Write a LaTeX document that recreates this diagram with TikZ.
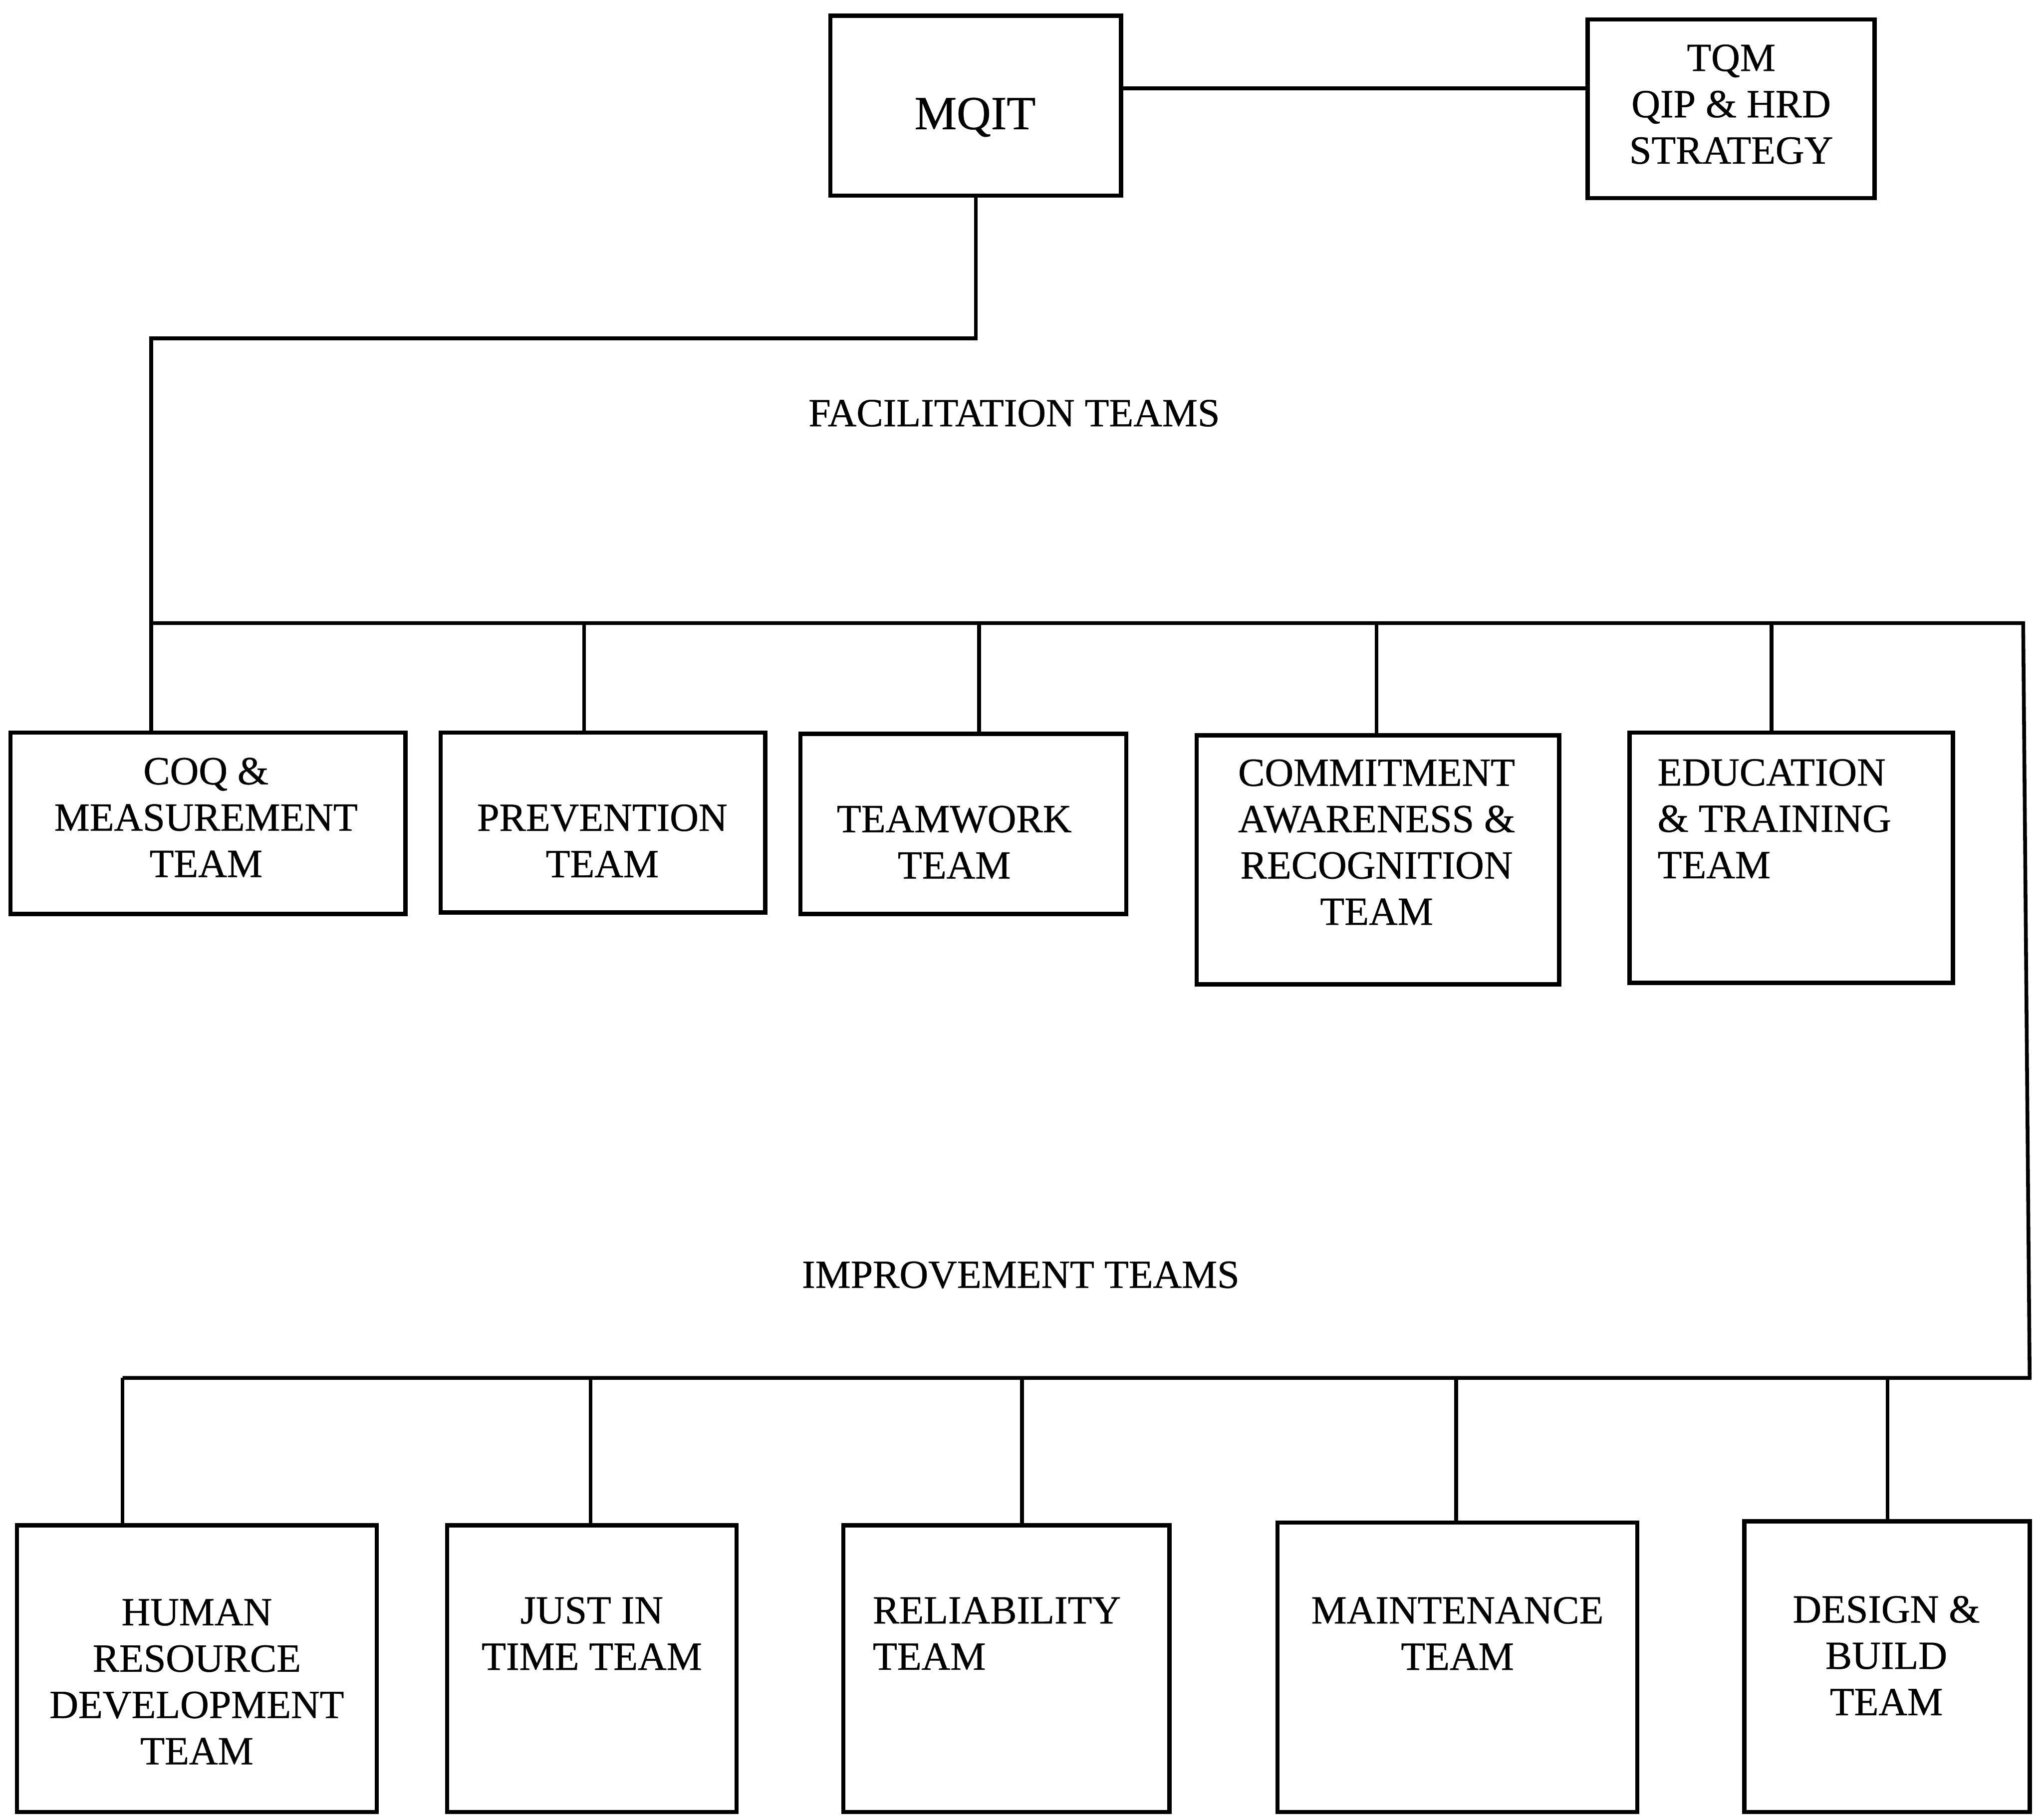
\documentclass[tikz,border=0pt]{standalone}
\usepackage{fontspec}
\setmainfont{Liberation Serif}
\newfontfamily\scanserif{Liberation Serif}[FakeBold=0.6]
\usetikzlibrary{fit,calc}
\begin{document}
\begin{tikzpicture}[x=0.012755cm,y=-0.012755cm,
  teambox/.style={draw,line width=1.2pt,inner sep=0pt,rectangle},
  link/.style={line width=1.05pt},
  caption/.style={font=\scanserif\fontsize{11.1}{12.9}\selectfont,inner sep=0pt,align=center},
  ]
\useasboundingbox (0,0) rectangle (1568,1392);

% ---- top level ----
\node[teambox,fit={(637,12)(860,150)}] (mqit) {};
\node[teambox,fit={(1218,15)(1438,152)}] (tqm) {};
\node[caption,font=\scanserif\fontsize{13.2}{15}\selectfont] (mqitT) at (748,90) {MQIT};
\node[caption] (tqmT) at (1328,80) {TQM\\QIP \& HRD\\STRATEGY};

% ---- facilitation teams ----
\node[teambox,fit={(8,562)(311,701)}] (coq) {};
\node[teambox,fit={(338,562)(587,700)}] (prev) {};
\node[teambox,fit={(614,563)(864,701)}] (twork) {};
\node[teambox,fit={(918,564)(1196,755)}] (commit) {};
\node[teambox,fit={(1250,562)(1498,754)}] (edu) {};

\node[caption] (coqT) at (158,627) {COQ \&\\MEASUREMENT\\TEAM};
\node[caption] (prevT) at (462,645) {PREVENTION\\TEAM};
\node[caption] (tworkT) at (732,646) {TEAMWORK\\TEAM};
\node[caption] (commitT) at (1056,646) {COMMITMENT\\AWARENESS \&\\RECOGNITION\\TEAM};
\node[caption,align=left,anchor=west] (eduT) at (1271,628) {EDUCATION\\\& TRAINING\\TEAM};

\node[caption] (facT) at (778,317) {FACILITATION TEAMS};

% ---- improvement teams ----
\node[teambox,fit={(13,1170)(289,1390)}] (hrd) {};
\node[teambox,fit={(343,1170)(565,1390)}] (jit) {};
\node[teambox,fit={(647,1170)(897,1390)}] (rel) {};
\node[teambox,fit={(980,1168)(1256,1390)}] (maint) {};
\node[teambox,fit={(1338,1167)(1557,1390)}] (design) {};

\node[caption] (hrdT) at (151,1290) {HUMAN\\RESOURCE\\DEVELOPMENT\\TEAM};
\node[caption] (jitT) at (454,1253) {JUST IN\\TIME TEAM};
\node[caption,align=left,anchor=west] (relT) at (669,1253) {RELIABILITY\\TEAM};
\node[caption] (maintT) at (1118,1253) {MAINTENANCE\\TEAM};
\node[caption] (designT) at (1447,1270) {DESIGN \&\\BUILD\\TEAM};

\node[caption] (impT) at (783,978) {IMPROVEMENT TEAMS};

% ---- connectors ----
\draw[link] ($(mqit.north east)!0.406!(mqit.south east)$) coordinate (mq) -- (mq -| tqm.west);

\coordinate (f1) at (116,478);
\coordinate (f2) at (448,478);
\coordinate (f3) at (751,478);
\coordinate (f4) at (1056,478);
\coordinate (f5) at (1359,478);
\coordinate (fR) at (1552,478);
\coordinate (iR) at (1557,1057);
\coordinate (i1) at (94,1057);
\coordinate (i2) at (453,1057);
\coordinate (i3) at (784,1057);
\coordinate (i4) at (1117,1057);
\coordinate (i5) at (1448,1057);

\draw[link] (mqit.south) -- ++(0,108) -| (f1);
\draw[link] (f1) -- (fR) -- (iR) -- (i1);

\draw[link] (f1) -- (f1 |- coq.north);
\draw[link] (f2) -- (f2 |- prev.north);
\draw[link] (f3) -- (f3 |- twork.north);
\draw[link] (f4) -- (f4 |- commit.north);
\draw[link] (f5) -- (f5 |- edu.north);

\draw[link] (i1) -- (i1 |- hrd.north);
\draw[link] (i2) -- (i2 |- jit.north);
\draw[link] (i3) -- (i3 |- rel.north);
\draw[link] (i4) -- (i4 |- maint.north);
\draw[link] (i5) -- (i5 |- design.north);
\end{tikzpicture}
\end{document}
